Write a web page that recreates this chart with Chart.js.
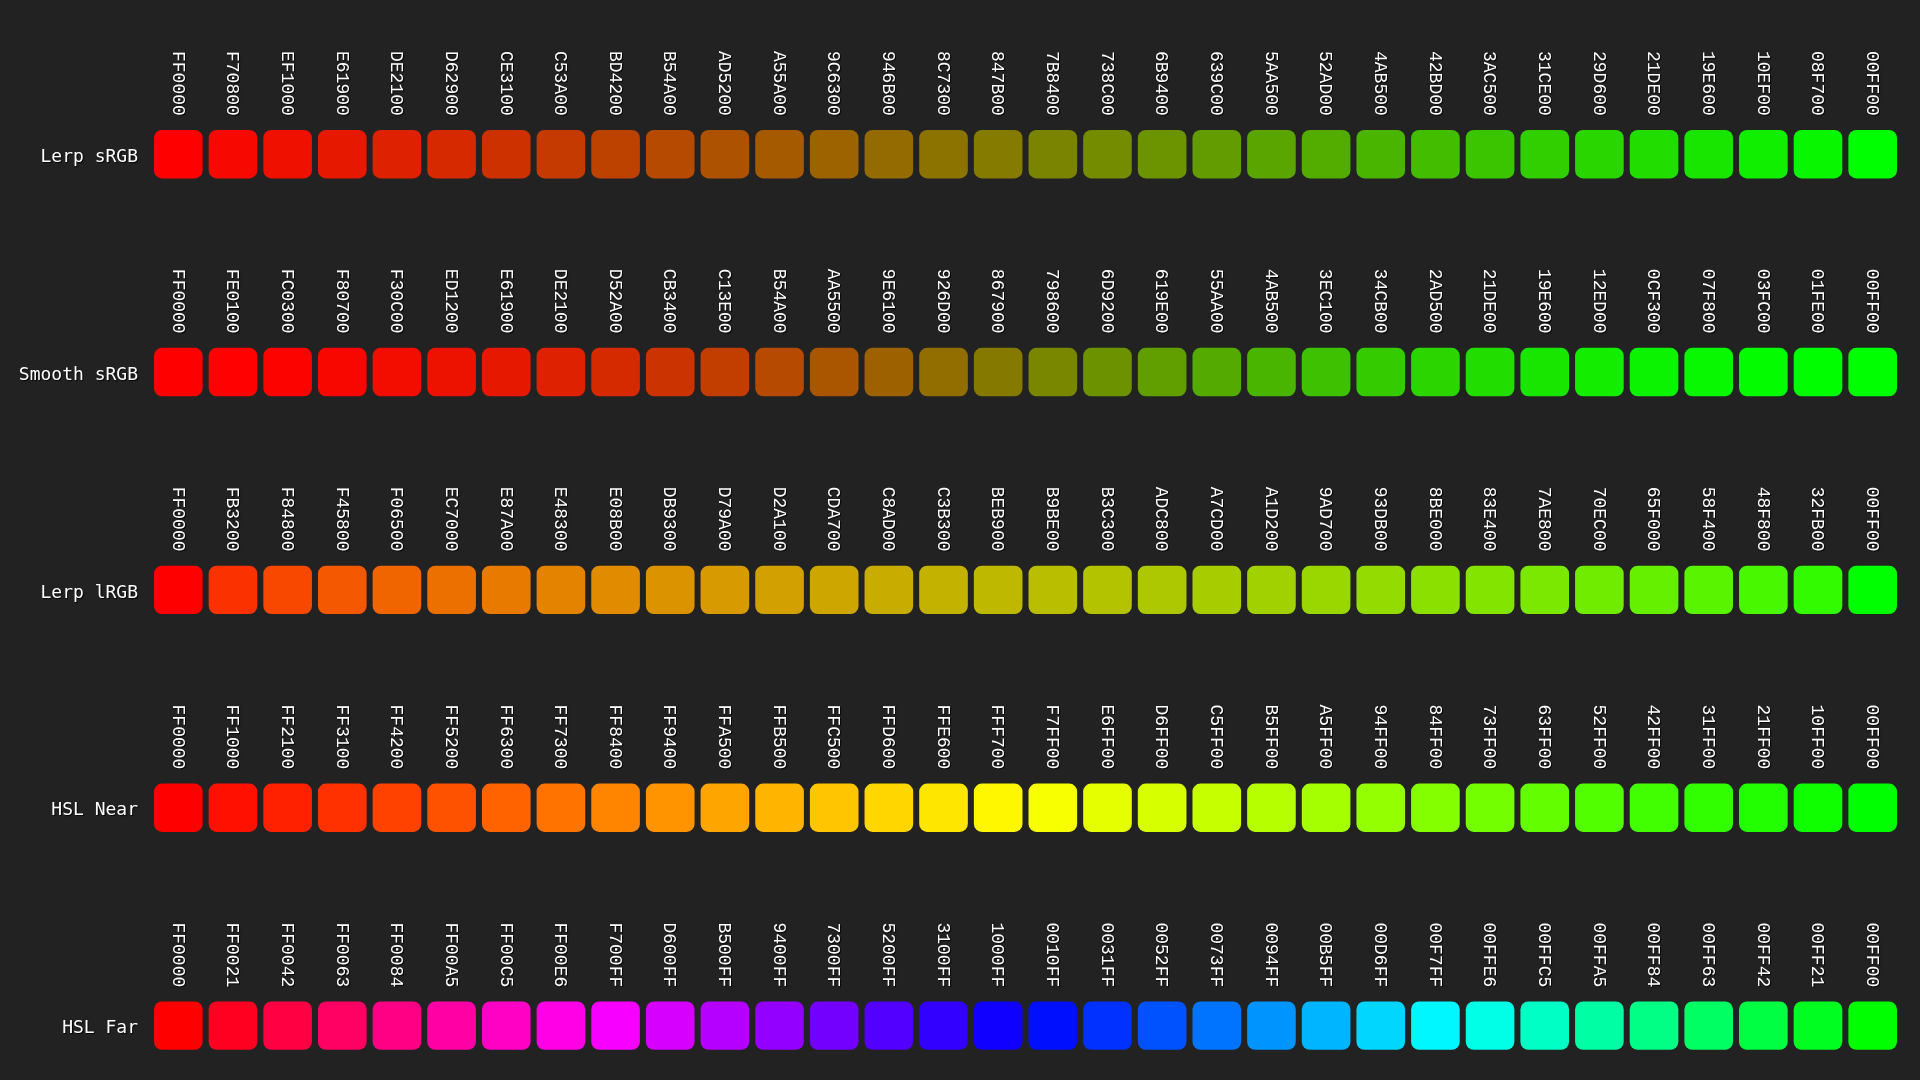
<!DOCTYPE html>
<html><head><meta charset="utf-8">
<script src="https://cdn.jsdelivr.net/npm/chart.js@4.4.0/dist/chart.umd.min.js"></script>
<style>html,body{margin:0;padding:0;background:#222222;overflow:hidden;} #wrap{width:1920px;height:1080px;position:relative;}</style>
</head><body><div id="wrap"><canvas id="c" width="1920" height="1080"></canvas></div>
<script>
const rowNames = ["Lerp sRGB", "Smooth sRGB", "Lerp lRGB", "HSL Near", "HSL Far"];

const lerpSRGB = ["FF0000","F70800","EF1000","E61900","DE2100","D62900","CE3100","C53A00","BD4200","B54A00","AD5200","A55A00","9C6300","946B00","8C7300","847B00","7B8400","738C00","6B9400","639C00","5AA500","52AD00","4AB500","42BD00","3AC500","31CE00","29D600","21DE00","19E600","10EF00","08F700","00FF00"];
const smoothSRGB = ["FF0000","FE0100","FC0300","F80700","F30C00","ED1200","E61900","DE2100","D52A00","CB3400","C13E00","B54A00","AA5500","9E6100","926D00","867900","798600","6D9200","619E00","55AA00","4AB500","3EC100","34CB00","2AD500","21DE00","19E600","12ED00","0CF300","07F800","03FC00","01FE00","00FF00"];
const lerpLRGB = ["FF0000","FB3200","F84800","F45800","F06500","EC7000","E87A00","E48300","E08B00","DB9300","D79A00","D2A100","CDA700","C8AD00","C3B300","BEB900","B9BE00","B3C300","ADC800","A7CD00","A1D200","9AD700","93DB00","8BE000","83E400","7AE800","70EC00","65F000","58F400","48F800","32FB00","00FF00"];
const hslNear = ["FF0000","FF1000","FF2100","FF3100","FF4200","FF5200","FF6300","FF7300","FF8400","FF9400","FFA500","FFB500","FFC500","FFD600","FFE600","FFF700","F7FF00","E6FF00","D6FF00","C5FF00","B5FF00","A5FF00","94FF00","84FF00","73FF00","63FF00","52FF00","42FF00","31FF00","21FF00","10FF00","00FF00"];
const hslFar = ["FF0000","FF0021","FF0042","FF0063","FF0084","FF00A5","FF00C5","FF00E6","F700FF","D600FF","B500FF","9400FF","7300FF","5200FF","3100FF","1000FF","0010FF","0031FF","0052FF","0073FF","0094FF","00B5FF","00D6FF","00F7FF","00FFE6","00FFC5","00FFA5","00FF84","00FF63","00FF42","00FF21","00FF00"];

const rows = [lerpSRGB, smoothSRGB, lerpLRGB, hslNear, hslFar];
const columns = lerpSRGB.map((_, i) => String(i));

const HALF = 0.111;   // half swatch height in row units
const BG = '#222222';

const datasets = rows.map((hexes, r) => ({
  label: rowNames[r],
  data: hexes.map(() => [r - HALF, r + HALF]),
  backgroundColor: hexes.map(h => '#' + h),
  borderWidth: 0,
  borderRadius: 8,
  borderSkipped: false,
  grouped: false,
  barPercentage: 0.89,
  categoryPercentage: 1.0
}));

const bgPlugin = {
  id: 'bg',
  beforeDraw(chart) {
    const ctx = chart.ctx;
    ctx.save();
    ctx.fillStyle = BG;
    ctx.fillRect(0, 0, chart.width, chart.height);
    ctx.restore();
  }
};

const textPlugin = {
  id: 'swatchText',
  afterDatasetsDraw(chart) {
    const ctx = chart.ctx;
    const xs = chart.scales.x, ys = chart.scales.y;
    ctx.save();
    ctx.shadowColor = 'rgba(0,0,0,0.85)';
    ctx.shadowOffsetX = 1;
    ctx.shadowOffsetY = 1;
    ctx.shadowBlur = 1;
    ctx.fillStyle = '#ffffff';
    rows.forEach((hexes, r) => {
      const top = ys.getPixelForValue(r - HALF);
      // row label
      ctx.font = '18px "DejaVu Sans Mono", monospace';
      ctx.textAlign = 'right';
      ctx.textBaseline = 'middle';
      ctx.fillText(rowNames[r], 138, ys.getPixelForValue(r) + 3);
      // hex labels
      ctx.font = '18px "Liberation Mono", monospace';
      hexes.forEach((h, j) => {
        const px = xs.getPixelForValue(j);
        ctx.save();
        ctx.translate(px - 1, top - 79);
        ctx.rotate(Math.PI / 2);
        ctx.textAlign = 'left';
        ctx.textBaseline = 'middle';
        ctx.fillText(h, 0, 0);
        ctx.restore();
      });
    });
    ctx.restore();
  }
};

new Chart(document.getElementById('c'), {
  type: 'bar',
  data: { labels: columns, datasets },
  options: {
    responsive: false,
    animation: false,
    devicePixelRatio: 1,
    layout: { padding: { left: 151, right: 20, top: 0, bottom: 0 } },
    plugins: { legend: { display: false }, tooltip: { enabled: false } },
    scales: {
      x: { display: false, offset: true, grid: { display: false } },
      y: { display: false, type: 'linear', reverse: true, min: -0.7078, max: 4.2497 }
    }
  },
  plugins: [bgPlugin, textPlugin]
});
</script>
</body></html>
